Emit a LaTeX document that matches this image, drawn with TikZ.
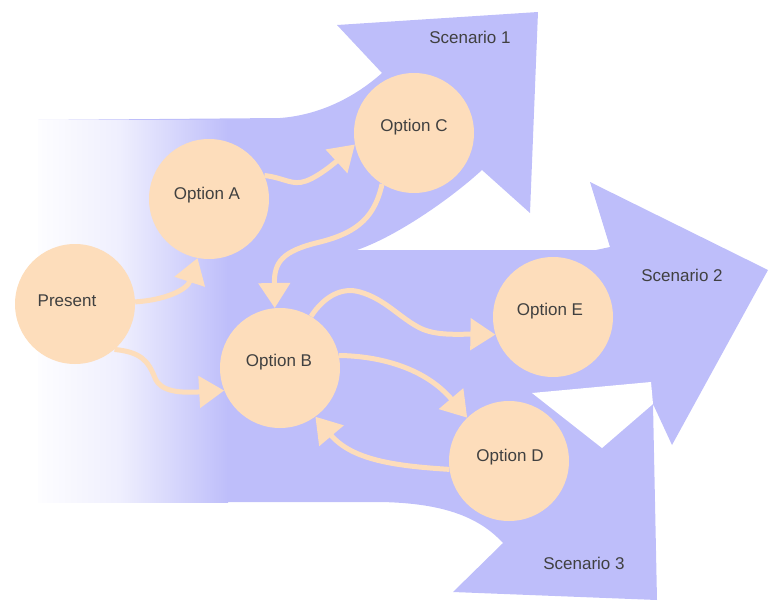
\documentclass[tikz,border=0pt]{standalone}
\usepackage{fontspec}
\setmainfont{Liberation Sans}
\usetikzlibrary{arrows.meta}
\definecolor{lav}{RGB}{190,190,250}
\definecolor{peach}{RGB}{253,221,187}
\definecolor{txt}{RGB}{64,64,64}
\tikzset{
  opt/.style={circle, fill=peach, minimum size=120pt, inner sep=0pt, text=txt, font=\fontsize{17}{17}\selectfont},
  lbl/.style={text=txt, font=\fontsize{17}{17}\selectfont, inner sep=0pt},
  conn/.style={draw=peach, line width=5pt, -{Triangle[length=25pt,width=31pt]}},
}
\begin{document}
\begin{tikzpicture}[x=1pt,y=-1pt]
\useasboundingbox (0,0) rectangle (774,600);
% lavender body with three arrows
\fill[lav] (38,120) -- (280,118) .. controls (320,115) and (355,97) .. (382,73)
  -- (337,25) -- (538,12) -- (530,213) -- (482,170)
  .. controls (455,195) and (400,235) .. (357,250)
  -- (596,250) -- (610,247) -- (590,182) -- (768,270) -- (672,445) -- (653,404)
  -- (657,600) -- (453,592) -- (503,543)
  .. controls (480,518) and (445,503) .. (380,502) -- (38,502) -- cycle;
% hole between scenario 2 and 3
\fill[white] (532,393) -- (651,382) -- (653,404) -- (602,448) -- cycle;
% fading at the left
\shade[left color=lav!3!white, right color=lav!25!white] (38,120) rectangle (121,502);
\shade[left color=lav!25!white, right color=lav] (120,120) rectangle (228,502);
% nodes
\node[opt] (present) at (75,304) {};
\node[opt] (optA) at (209,199) {};
\node[opt] (optC) at (414,133) {};
\node[opt] (optB) at (280,368) {};
\node[opt] (optE) at (553,317) {};
\node[opt] (optD) at (509,461) {};
\node[lbl] (tpresent) at (67,301) {Present};
\node[lbl] (tA) at (207,195) {Option A};
\node[lbl] (tC) at (414,127) {Option C};
\node[lbl] (tB) at (279,362) {Option B};
\node[lbl] (tE) at (550,311) {Option E};
\node[lbl] (tD) at (510,457) {Option D};
\node[lbl] (s1) at (470,37) {Scenario 1};
\node[lbl] (s2) at (682,275) {Scenario 2};
\node[lbl] (s3) at (584,563) {Scenario 3};
% connectors
\draw[conn] (present.2) .. controls (165,300) and (187,290) .. (optA.259);
\draw[conn] (present.311) .. controls (140,352) and (148,360) .. (155,378)
  .. controls (161,392) and (180,393) .. (optB.202);
\draw[conn] (optA.23) .. controls (285,178) and (292,186) .. (306,181)
  .. controls (320,176) and (338,160) .. (optC.191);
\draw[conn] (optC.238) .. controls (375,215) and (360,232) .. (320,242)
  .. controls (282,251) and (274,262) .. (optB.95);
\draw[conn] (optB.59) .. controls (325,295) and (343,287) .. (360,292)
  .. controls (385,299) and (400,318) .. (420,328)
  .. controls (436,336) and (458,334) .. (optE.197);
\draw[conn] (optB.12) .. controls (380,356) and (425,368) .. (optD.134);
\draw[conn] (optD.188) .. controls (395,466) and (352,460) .. (optB.306);
\end{tikzpicture}
\end{document}
